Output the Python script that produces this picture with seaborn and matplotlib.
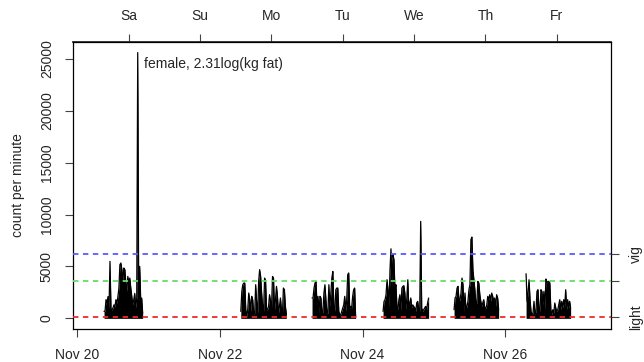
import numpy as np
import pandas as pd
import matplotlib
matplotlib.use("Agg")
import matplotlib.pyplot as plt
import seaborn as sns

# ---- data: accelerometer counts, one reading every 20 minutes while worn ----
SAMPLE_MIN = 20
burst_start = [  # days since Nov 20 00:00 when each wear period begins
    9.0 / 24, 2 + 7.03 / 24, 3 + 7.0 / 24, 4 + 6.9 / 24, 5 + 6.8 / 24, 6 + 7.03 / 24,
]
sat_counts = [670, 700, 1800, 1500, 2100, 900, 5490, 900, 800, 1000, 1300, 1100, 1800,
              1400, 2100, 2900, 5170, 5330, 4690, 3560, 4850, 4690, 3400, 2600, 4040,
              3400, 3880, 2920, 2120, 1300, 1800, 2400, 1000, 1950, 25600, 1500, 5000,
              1800, 1950, 500]
mon_counts = [670, 2600, 3240, 3400, 3400, 830, 190, 830, 2440, 1800, 670, 2120, 1800,
              350, 500, 3240, 1480, 500, 3560, 4690, 4040, 2440, 1150, 670, 3880, 3560,
              830, 830, 1150, 2280, 1640, 1000, 4040, 3880, 830, 1800, 3080, 2120, 500,
              1150, 1960, 830, 350, 2920, 2760, 1150, 400]
tue_counts = [1960, 1960, 2920, 3400, 3560, 1300, 2120, 500, 2120, 1960, 350, 670, 2440,
              3240, 1800, 500, 500, 3240, 1150, 2440, 3880, 4520, 1000, 670, 2760, 2920,
              2920, 670, 350, 350, 670, 1000, 1300, 2120, 670, 1800, 4200, 4370, 1000,
              1150, 1000, 2120, 2760, 2920, 200]
wed_counts = [670, 1640, 1800, 2280, 3720, 2760, 1000, 4690, 6700, 3080, 6130, 5650, 2760,
              3240, 1150, 830, 1800, 2280, 670, 2920, 3080, 3150, 2440, 830, 1960, 3720,
              830, 1500, 1960, 1000, 1300, 1150, 1000, 670, 1500, 1640, 830, 670, 9340,
              1000, 670, 830, 1000, 1150, 830, 1500, 1960]
thu_counts = [830, 1960, 2120, 2920, 3080, 1640, 1800, 2440, 3880, 3240, 670, 2440, 830,
              1150, 1640, 2760, 3240, 7580, 7830, 4690, 3720, 2760, 1300, 1500, 3560, 3400,
              2280, 1640, 1150, 1500, 1800, 830, 1000, 1300, 2120, 1800, 2280, 1640, 2440,
              2120, 1640, 1960, 1150, 2280, 1960, 830]
fri_counts = [4300, 1640, 2440, 3720, 1800, 670, 350, 500, 1640, 350, 670, 2600, 2760, 830,
              670, 2760, 2600, 1300, 2600, 830, 3790, 3400, 3560, 3560, 3400, 830, 350, 830,
              500, 1480, 1000, 670, 830, 1300, 1800, 830, 1640, 1000, 1800, 1150, 2760, 830,
              1800, 1000, 1640, 1000]
bursts = [sat_counts, mon_counts, tue_counts, wed_counts, thu_counts, fri_counts]

# recording window (days since Nov 20 00:00)
record_start, record_end = 0.223, 7.205

# intensity cut points (counts per minute)
cut_values = [150, 3570, 6170]
cut_colors = ["#ee2a2a", "#66dd66", "#5a5aff"]
cut_labels = ["light", "", "vig"]

date_ticks = [0, 2, 4, 6]
date_labels = ["Nov 20", "Nov 22", "Nov 24", "Nov 26"]
day_ticks = [record_start + 0.5 + k for k in range(7)]
day_labels = ["Sa", "Su", "Mo", "Tu", "We", "Th", "Fr"]

note_text = "female, 2.31log(kg fat)"

# ---- tidy table ----
rows = []
for b, (t0, vals) in enumerate(zip(burst_start, bursts)):
    for i, v in enumerate(vals):
        rows.append({"day": t0 + i * SAMPLE_MIN / 1440.0, "count": v, "burst": b})
df = pd.DataFrame(rows)

sns.set_theme(style="white")
plt.rcParams["font.family"] = ["Liberation Sans", "DejaVu Sans"]
plt.rcParams["font.size"] = 10

fig = plt.figure(figsize=(6.44, 3.62), dpi=100)
ax = fig.add_axes([0.1138, 0.0912, 0.835, 0.7928])

for b, g in df.groupby("burst"):
    ax.fill_between(g["day"], 0, g["count"], color="black", lw=0)
sns.lineplot(data=df, x="day", y="count", units="burst", estimator=None,
             color="black", lw=0.9, ax=ax, legend=False)

for v, c in zip(cut_values, cut_colors):
    ax.axhline(v, color=c, lw=1.3, ls=(0, (3, 2.5)), zorder=3)

ax.text(0.935, 24460, note_text, ha="left", va="center", fontsize=10)

span = record_end - record_start
ymax = df["count"].max()
ax.set_xlim(record_start - 0.04 * span, record_end + 0.04 * span)
ax.set_ylim(-0.04 * ymax, 1.04 * ymax)

ax.set_xticks(date_ticks)
ax.set_xticklabels(date_labels)
ax.set_yticks([0, 5000, 10000, 15000, 20000, 25000])
ax.set_yticklabels(["0", "5000", "10000", "15000", "20000", "25000"],
                   rotation=90, va="center")
ax.set_xlabel("")
ax.set_ylabel("count per minute", fontsize=10, labelpad=11)
ax.tick_params(axis="both", direction="out", length=6, width=0.8, color="#444444",
               labelsize=10, bottom=True, left=True)
ax.tick_params(axis="x", pad=8)
ax.tick_params(axis="y", pad=8)

for s in ax.spines.values():
    s.set_color("black")
    s.set_linewidth(0.9)

top = ax.secondary_xaxis("top")
top.set_xticks(day_ticks)
top.set_xticklabels(day_labels)
top.tick_params(direction="out", length=6, width=0.8, color="#444444", labelsize=10, pad=8)

right = ax.twinx()
right.set_ylim(ax.get_ylim())
right.set_yticks(cut_values)
right.set_yticklabels(cut_labels, rotation=90, va="center")
right.tick_params(direction="out", length=6, width=0.8, color="#444444", labelsize=10, pad=7)
right.grid(False)
for s in right.spines.values():
    s.set_visible(False)

fig.savefig("out.png", dpi=100, facecolor="white")
